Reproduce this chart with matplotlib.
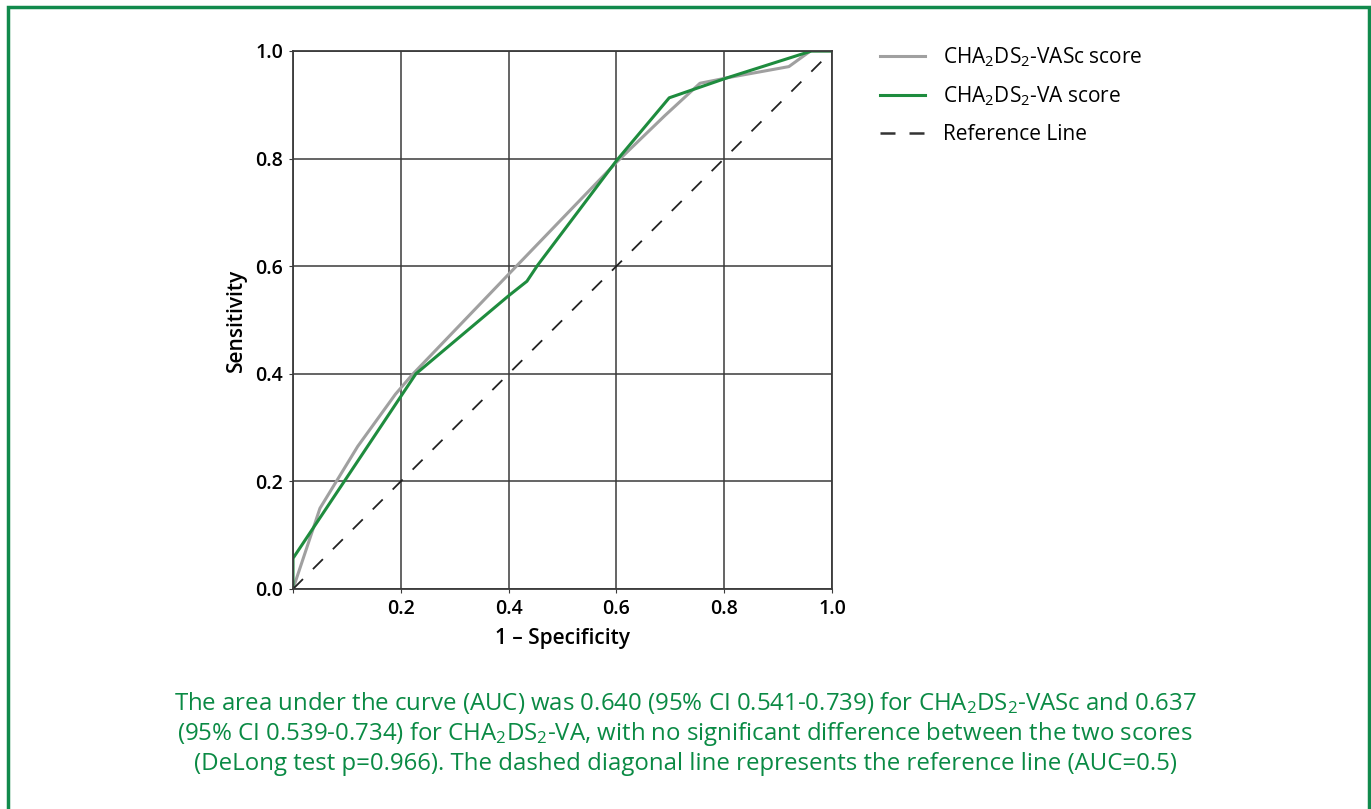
import matplotlib.pyplot as plt
from matplotlib.patches import Rectangle
from matplotlib.lines import Line2D

plt.rcParams['font.family'] = ['Open Sans', 'DejaVu Sans']
plt.rcParams['mathtext.fontset'] = 'custom'
plt.rcParams['mathtext.rm'] = 'Open Sans'
plt.rcParams['mathtext.it'] = 'Open Sans'

# ROC points (1 - specificity, sensitivity)
vasc_fpr = [0.0, 0.05, 0.12, 0.19, 0.22, 0.40, 0.60, 0.69, 0.755, 0.81, 0.92, 0.96, 1.0]
vasc_tpr = [0.0, 0.150, 0.265, 0.362, 0.397, 0.585, 0.793, 0.880, 0.940, 0.951, 0.971, 1.0, 1.0]
va_fpr = [0.0, 0.0, 0.228, 0.40, 0.434, 0.454, 0.60, 0.698, 0.805, 0.962, 1.0]
va_tpr = [0.0, 0.057, 0.400, 0.545, 0.572, 0.602, 0.796, 0.913, 0.950, 1.0, 1.0]
ref_line = [0.0, 1.0]

ticks = [0.0, 0.2, 0.4, 0.6, 0.8, 1.0]
labels = ['CHA$_2$DS$_2$-VASc score', 'CHA$_2$DS$_2$-VA score', 'Reference Line']
gray = '#a0a0a0'
green = '#1e8c3e'
caption_green = '#0a8a44'

fig = plt.figure(figsize=(13.71, 8.09), dpi=100)
fig.patches.append(Rectangle((8 / 1371, -0.05), 1361 / 1371, 0.05 + 802 / 809,
                             transform=fig.transFigure, fill=False,
                             edgecolor='#118a4c', linewidth=2.5))

ax = fig.add_axes([293 / 1371, 1 - 589 / 809, 539 / 1371, 538 / 809])
l1, = ax.plot(vasc_fpr, vasc_tpr, color=gray, linewidth=2.2)
l2, = ax.plot(va_fpr, va_tpr, color=green, linewidth=2.2)
ax.plot(ref_line, ref_line, color='#222222', linewidth=1.3, dashes=(7.8, 7.8))
# legend handle for the dashed line: two full dashes like the original
l3 = Line2D([], [], color='#333333', linewidth=1.8, dashes=(6.0, 5.6))

ax.set_xlim(0, 1)
ax.set_ylim(0, 1)
ax.set_xticks(ticks)
ax.set_xticklabels([''] + [f'{t:.1f}' for t in ticks[1:]])
ax.set_yticks(ticks)
ax.set_yticklabels([f'{t:.1f}' for t in ticks])
ax.grid(True, color='#3a3a3a', linewidth=1.1)
ax.set_axisbelow(True)
for s in ax.spines.values():
    s.set_color('#3a3a3a')
    s.set_linewidth(1.3)
ax.tick_params(length=3, color='#3a3a3a', labelsize=14, pad=4)
for lab in ax.get_xticklabels() + ax.get_yticklabels():
    lab.set_fontweight('semibold')
ax.set_xlabel('1 – Specificity', fontsize=15, fontweight='semibold', labelpad=7)
ax.set_ylabel('Sensitivity', fontsize=15, fontweight='semibold', labelpad=6)

ax.legend([l1, l2, l3], labels, loc='upper left', bbox_to_anchor=(1.055, 1.045), frameon=False,
          fontsize=15, handlelength=2.15, handletextpad=0.85, labelspacing=0.75)

caption = ('The area under the curve (AUC) was 0.640 (95% CI 0.541-0.739) for CHA$_2$DS$_2$-VASc and 0.637\n'
           '(95% CI 0.539-0.734) for CHA$_2$DS$_2$-VA, with no significant difference between the two scores\n'
           '(DeLong test p=0.966). The dashed diagonal line represents the reference line (AUC=0.5)')
fig.text(685 / 1371, 1 - 733 / 809, caption, ha='center', va='center', fontsize=17.3,
         color=caption_green, linespacing=1.21)

fig.savefig('out.png', dpi=100)
